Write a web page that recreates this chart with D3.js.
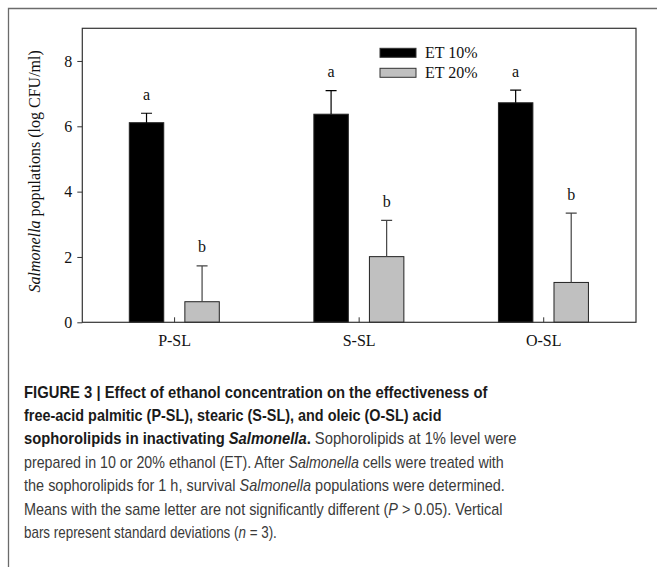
<!DOCTYPE html>
<html lang="en">
  <head>
    <meta charset="UTF-8" />
    <title>Salmonella populations – D3.js</title>
    <script src="https://d3js.org/d3.v7.min.js"></script>
    <style>
      body {
        margin: 0;
        background: #ffffff;
      }
      svg {
        display: block;
      }
      .tick text,
      .chart-text {
        font-family: 'Liberation Serif', 'Times New Roman', serif;
        font-size: 16px;
        fill: #111;
      }
      .caption {
        font-family: 'Liberation Sans', Arial, sans-serif;
        font-size: 16px;
        fill: #3a3a3a;
      }
    </style>
  </head>
  <body>
    <svg width="657" height="567"></svg>

    <script>
      // data
      const categories = ['P-SL', 'S-SL', 'O-SL'];
      const series = ['ET 10%', 'ET 20%'];
      const means10 = [6.11, 6.37, 6.72];
      const sd10 = [0.29, 0.72, 0.39];
      const means20 = [0.63, 2.01, 1.22];
      const sd20 = [1.1, 1.11, 2.12];
      const letters10 = ['a', 'a', 'a'];
      const letters20 = ['b', 'b', 'b'];
      const yTicks = [0, 2, 4, 6, 8];

      const rows = [];
      categories.forEach((c, i) => {
        rows.push({ cat: c, s: series[0], mean: means10[i], sd: sd10[i], letter: letters10[i] });
        rows.push({ cat: c, s: series[1], mean: means20[i], sd: sd20[i], letter: letters20[i] });
      });

      const svg = d3.select('svg');

      // outer figure frame (left + top only)
      svg.append('path')
        .attr('d', 'M8.5,567V8.5H657')
        .attr('fill', 'none')
        .attr('stroke', '#6b6b6b')
        .attr('stroke-width', 1.3);

      const plotL = 82.3, plotR = 636, plotT = 28.3, plotB = 322.3;

      const x = d3.scaleBand().domain(categories).range([plotL, plotR]).padding(0);
      const xs = d3.scaleBand().domain(series).range([47, 137]).paddingInner(0.38);
      const y = d3.scaleLinear().domain([0, 9]).range([plotB, plotT]);
      const color = d3.scaleOrdinal().domain(series).range(['#000000', '#c0c0c0']);
      const errColor = d3.scaleOrdinal().domain(series).range(['#000000', '#444444']);

      const g = svg.append('g');

      // bars
      g.selectAll('rect.bar')
        .data(rows)
        .join('rect')
        .attr('class', 'bar')
        .attr('x', (d) => x(d.cat) + xs(d.s))
        .attr('width', xs.bandwidth())
        .attr('y', (d) => y(d.mean))
        .attr('height', (d) => y(0) - y(d.mean))
        .attr('fill', (d) => color(d.s))
        .attr('stroke', '#222')
        .attr('stroke-width', 1);

      // error bars (upper only)
      const cx = (d) => x(d.cat) + xs(d.s) + xs.bandwidth() / 2;
      const capW = 11;
      g.selectAll('path.err')
        .data(rows)
        .join('path')
        .attr('class', 'err')
        .attr('d', (d) =>
          `M${cx(d)},${y(d.mean)}V${y(d.mean + d.sd)}` +
          `M${cx(d) - capW / 2},${y(d.mean + d.sd)}h${capW}`)
        .attr('fill', 'none')
        .attr('stroke', (d) => errColor(d.s))
        .attr('stroke-width', 1.2);

      // significance letters
      g.selectAll('text.letter')
        .data(rows)
        .join('text')
        .attr('class', 'chart-text')
        .attr('x', cx)
        .attr('y', (d) => y(d.mean + d.sd) - 13.5)
        .attr('text-anchor', 'middle')
        .text((d) => d.letter);

      // y axis
      const yAxis = svg.append('g')
        .attr('transform', `translate(${plotL},0)`)
        .call(d3.axisLeft(y).tickValues(yTicks).tickSize(5).tickPadding(5));
      yAxis.select('.domain').remove();
      yAxis.selectAll('line').attr('stroke', '#333');

      // x axis: short inward ticks at category centres
      const xAxis = svg.append('g')
        .attr('transform', `translate(0,${plotB})`)
        .call(d3.axisBottom(x).tickSize(-5).tickPadding(12));
      xAxis.select('.domain').remove();
      xAxis.selectAll('line').attr('stroke', '#333');
      xAxis.selectAll('text').attr('dy', '0.71em');

      // plot frame
      svg.append('rect')
        .attr('x', plotL)
        .attr('y', plotT)
        .attr('width', plotR - plotL)
        .attr('height', plotB - plotT)
        .attr('fill', 'none')
        .attr('stroke', '#333')
        .attr('stroke-width', 1.2);

      // y label
      const yl = svg.append('text')
        .attr('class', 'chart-text')
        .attr('transform', `translate(40,${(plotT + plotB) / 2 - 4}) rotate(-90)`)
        .attr('text-anchor', 'middle');
      yl.append('tspan').attr('font-style', 'italic').text('Salmonella');
      yl.append('tspan').text(' populations (log CFU/ml)');

      // legend
      const legend = svg.append('g').attr('transform', 'translate(380,48.3)');
      series.forEach((s, i) => {
        legend.append('rect')
          .attr('x', 0)
          .attr('y', i * 20)
          .attr('width', 36)
          .attr('height', 9)
          .attr('fill', color(s))
          .attr('stroke', '#333');
        legend.append('text')
          .attr('class', 'chart-text')
          .attr('x', 45)
          .attr('y', i * 20 + 10)
          .text(s);
      });

      // caption
      const captionLines = [
        { w: 464, parts: [['FIGURE 3 | Effect of ethanol concentration on the effectiveness of', 'b']] },
        { w: 418, parts: [['free-acid palmitic (P-SL), stearic (S-SL), and oleic (O-SL) acid', 'b']] },
        { w: 493, parts: [['sophorolipids in inactivating ', 'b'], ['Salmonella', 'bi'], ['.', 'b'], [' Sophorolipids at 1% level were', '']] },
        { w: 480, parts: [['prepared in 10 or 20% ethanol (ET). After ', ''], ['Salmonella', 'i'], [' cells were treated with', '']] },
        { w: 481, parts: [['the sophorolipids for 1 h, survival ', ''], ['Salmonella', 'i'], [' populations were determined.', '']] },
        { w: 479, parts: [['Means with the same letter are not significantly different (', ''], ['P', 'i'], [' > 0.05). Vertical', '']] },
        { w: 253, parts: [['bars represent standard deviations (', ''], ['n', 'i'], [' = 3).', '']] },
      ];

      // squeeze each line horizontally so it ends where the reference line ends
      captionLines.forEach((line, i) => {
        const t = svg.append('text')
          .attr('class', 'caption')
          .attr('x', 0)
          .attr('y', 0);
        line.parts.forEach(([str, st]) => {
          const sp = t.append('tspan').text(str);
          if (st.includes('b')) sp.attr('font-weight', 'bold').attr('fill', '#1a1a1a');
          if (st.includes('i')) sp.attr('font-style', 'italic');
        });
        const natural = t.node().getComputedTextLength();
        const sx = line.w / natural;
        t.attr('transform', `translate(24,${397.5 + i * 23.4}) scale(${sx},1)`);
      });
    </script>
  </body>
</html>
